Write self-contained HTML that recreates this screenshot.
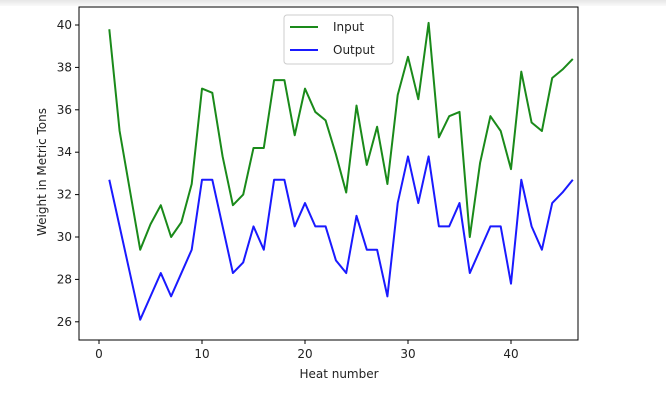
<!DOCTYPE html>
<html><head><meta charset="utf-8"><style>
body{margin:0;background:#fff;width:666px;height:400px;overflow:hidden;font-family:"Liberation Sans","DejaVu Sans",sans-serif}
text{font-family:"DejaVu Sans","Liberation Sans",sans-serif;font-size:12px;fill:#222}
</style></head><body>
<svg id="chart" width="666" height="400">
<defs><linearGradient id="tg" x1="0" y1="0" x2="0" y2="1"><stop offset="0" stop-color="#e6e6e6"/><stop offset="1" stop-color="#fafafa"/></linearGradient></defs>
<rect x="0" y="0" width="666" height="6" fill="url(#tg)"/>
<g id="axes"></g><g id="series"></g>
<g>
<rect x="284" y="15" width="109" height="49" rx="3" fill="#fff" stroke="#ccc"/>
<line x1="290" y1="27" x2="318" y2="27" stroke="#1a8a1a" stroke-width="2"/>
<text x="333" y="31">Input</text>
<line x1="290" y1="50" x2="318" y2="50" stroke="#1a1aff" stroke-width="2"/>
<text x="333" y="54">Output</text>
</g>
<text x="339" y="378" text-anchor="middle">Heat number</text>
<text transform="translate(46,172) rotate(-90)" text-anchor="middle">Weight in Metric Tons</text>
</svg>
<script>
const heats=[];for(let i=1;i<=46;i++)heats.push(i);
const inputValues=[39.8,35.0,32.2,29.4,30.6,31.5,30.0,30.7,32.5,37.0,36.8,33.8,31.5,32.0,34.2,34.2,37.4,37.4,34.8,37.0,35.9,35.5,33.9,32.1,36.2,33.4,35.2,32.5,36.7,38.5,36.5,40.1,34.7,35.7,35.9,30.0,33.5,35.7,35.0,33.2,37.8,35.4,35.0,37.5,37.9,38.4];
const outputValues=[32.7,30.5,28.3,26.1,27.2,28.3,27.2,28.3,29.4,32.7,32.7,30.5,28.3,28.8,30.5,29.4,32.7,32.7,30.5,31.6,30.5,30.5,28.9,28.3,31.0,29.4,29.4,27.2,31.6,33.8,31.6,33.8,30.5,30.5,31.6,28.3,29.4,30.5,30.5,27.8,32.7,30.5,29.4,31.6,32.1,32.7];
const xTicks=[0,10,20,30,40];
const yTicks=[26,28,30,32,34,36,38,40];
const L=79,R=578,T=7,B=340;
const xs=v=>99+v*10.3;
const ys=v=>25+(40-v)*21.2;
const NS="http://www.w3.org/2000/svg";
const ax=document.getElementById('axes');
function mk(t,a,p){const e=document.createElementNS(NS,t);for(const k in a)e.setAttribute(k,a[k]);p.appendChild(e);return e;}
const fr=mk('rect',{x:L,y:T,width:R-L,height:B-T,fill:'none',stroke:'#000','stroke-width':1},ax);


xTicks.forEach(v=>{
 const l=mk('line',{x1:xs(v),x2:xs(v),y1:B,y2:B+4,stroke:'#000'},ax);
 
 
 const t=mk('text',{x:xs(v),y:B+18,'text-anchor':'middle'},ax);t.textContent=v;
 
 
});
yTicks.forEach(v=>{
 const l=mk('line',{x1:L-4,x2:L,y1:ys(v),y2:ys(v),stroke:'#000'},ax);
 
 
 const t=mk('text',{x:L-7,y:ys(v)+4,'text-anchor':'end'},ax);t.textContent=v;
 
 
});
const sg=document.getElementById('series');
function line(vals,color,name){
 const p=mk('polyline',{points:vals.map((v,i)=>xs(heats[i])+','+ys(v)).join(' '),fill:'none',stroke:color,'stroke-width':2,'stroke-linejoin':'round'},sg);
 
 
}
line(inputValues,'#1a8a1a','input-line');
line(outputValues,'#1a1aff','output-line');
</script>
</body></html>
